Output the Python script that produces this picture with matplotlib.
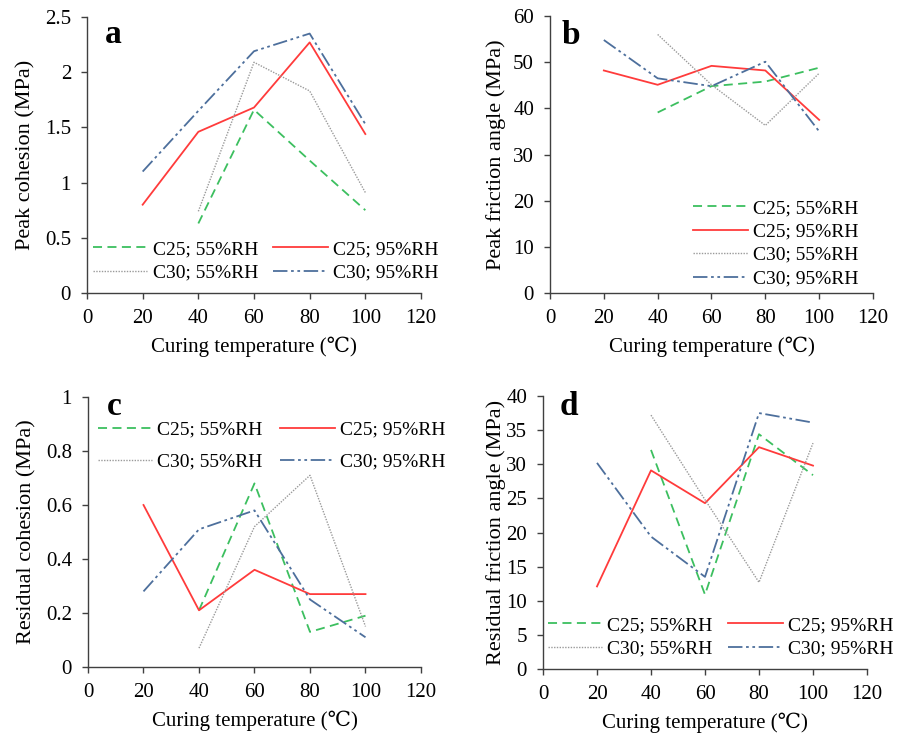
import matplotlib
matplotlib.use("Agg")
import matplotlib.pyplot as plt

plt.rcParams['font.family'] = ['Liberation Serif', 'DejaVu Serif', 'DejaVu Sans']
plt.rcParams['font.size'] = 15

temps_all = [20, 40, 60, 80, 100]
temps_55 = [40, 60, 80, 100]

series_names = ["C25; 55%RH", "C25; 95%RH", "C30; 55%RH", "C30; 95%RH"]

# Panel a: Peak cohesion (MPa)
a_c25_55 = [0.63, 1.66, 1.20, 0.75]
a_c25_95 = [0.80, 1.46, 1.68, 2.27, 1.44]
a_c30_55 = [0.74, 2.09, 1.83, 0.91]
a_c30_95 = [1.10, 1.65, 2.19, 2.35, 1.53]

# Panel b: Peak friction angle
b_c25_55 = [39.1, 44.8, 45.8, 48.8]
b_c25_95 = [48.2, 45.1, 49.2, 48.2, 37.5]
b_c30_55 = [56.0, 45.1, 36.3, 47.6]
b_c30_95 = [54.8, 46.5, 44.8, 50.1, 35.0]

# Panel c: Residual cohesion (MPa)
c_c25_55 = [0.21, 0.68, 0.13, 0.19]
c_c25_95 = [0.60, 0.21, 0.36, 0.27, 0.27]
c_c30_55 = [0.07, 0.52, 0.71, 0.15]
c_c30_95 = [0.28, 0.51, 0.58, 0.25, 0.11]

# Panel d: Residual friction angle
d_c25_55 = [32.1, 10.9, 34.4, 28.4]
d_c25_95 = [12.1, 29.1, 24.3, 32.5, 29.8]
d_c30_55 = [37.2, 24.8, 12.7, 33.1]
d_c30_95 = [30.2, 19.4, 13.5, 37.5, 36.1]

x_ticks = [0, 20, 40, 60, 80, 100, 120]

styles = [
    dict(color="#3cbf5f", linestyle=(0, (5, 3)), linewidth=1.3),
    dict(color="#ff3b3b", linestyle="-", linewidth=1.3),
    dict(color="#9a9a9a", linestyle=(0, (1, 1)), linewidth=1.0),
    dict(color="#4d6f9c", linestyle=(0, (8, 2, 1.5, 2, 1.5, 2)), linewidth=1.3),
]

W, H = 903, 736
fig = plt.figure(figsize=(W / 100, H / 100), dpi=100)


def px_axes(left, right, top, bottom):
    return fig.add_axes([left / W, (H - bottom) / H, (right - left) / W, (bottom - top) / H])


panels = [
    dict(box=(87, 421, 17, 293), data=[a_c25_55, a_c25_95, a_c30_55, a_c30_95],
         ylim=(0, 2.5), yticks=[0, 0.5, 1, 1.5, 2, 2.5], yticklabels=["0", "0.5", "1", "1.5", "2", "2.5"],
         ylabel="Peak cohesion (MPa)", ylpad=7, letter="a", lxy=(0.054, 0.906),
         leg=dict(ncol=2, bbox=(0.018, 0.19), spacing=0.3, colsp=0.8)),
    dict(box=(550, 873, 16, 293), data=[b_c25_55, b_c25_95, b_c30_55, b_c30_95],
         ylim=(0, 60), yticks=[0, 10, 20, 30, 40, 50, 60], yticklabels=None,
         ylabel="Peak friction angle (MPa)", ylpad=5, letter="b", lxy=(0.037, 0.90),
         leg=dict(ncol=1, bbox=(0.443, 0.338), spacing=0.3, colsp=0.8)),
    dict(box=(88, 421, 397, 667), data=[c_c25_55, c_c25_95, c_c30_55, c_c30_95],
         ylim=(0, 1), yticks=[0, 0.2, 0.4, 0.6, 0.8, 1], yticklabels=["0", "0.2", "0.4", "0.6", "0.8", "1"],
         ylabel="Residual cohesion (MPa)", ylpad=7, letter="c", lxy=(0.057, 0.933),
         leg=dict(ncol=2, bbox=(0.03, 0.912), spacing=0.75, colsp=0.9)),
    dict(box=(543, 867, 396, 669), data=[d_c25_55, d_c25_95, d_c30_55, d_c30_95],
         ylim=(0, 40), yticks=[0, 5, 10, 15, 20, 25, 30, 35, 40], yticklabels=None,
         ylabel="Residual friction angle (MPa)", ylpad=0, letter="d", lxy=(0.052, 0.93),
         leg=dict(ncol=2, bbox=(0.015, 0.192), spacing=0.3, colsp=0.8)),
]

for p in panels:
    ax = px_axes(*p["box"])
    handles = []
    for name, vals, st in zip(series_names, p["data"], styles):
        xs = temps_55 if len(vals) == 4 else temps_all
        h, = ax.plot(xs, vals, label=name, **st)
        handles.append(h)
    ax.set_xlim(0, 120)
    ax.set_xticks(x_ticks)
    ax.set_ylim(*p["ylim"])
    ax.set_yticks(p["yticks"])
    if p["yticklabels"]:
        ax.set_yticklabels(p["yticklabels"])
    for s in ("top", "right"):
        ax.spines[s].set_visible(False)
    for s in ("left", "bottom"):
        ax.spines[s].set_color("#404040")
        ax.spines[s].set_linewidth(1.0)
    ax.tick_params(direction="out", length=4.5, width=1.0, color="#404040", labelsize=15)
    ax.tick_params(axis="x", pad=7)
    ax.tick_params(axis="y", pad=7)
    ax.set_xlabel("Curing temperature (℃)", fontsize=15, labelpad=6)
    ax.set_ylabel(p["ylabel"], fontsize=16, labelpad=p["ylpad"])
    ax.text(p["lxy"][0], p["lxy"][1], p["letter"], transform=ax.transAxes,
            fontsize=24, fontweight="bold", va="baseline", ha="left")
    lg = p["leg"]
    if lg["ncol"] == 2:
        order = [0, 2, 1, 3]
    else:
        order = [0, 1, 2, 3]
    ax.legend([handles[i] for i in order], [series_names[i] for i in order],
              ncol=lg["ncol"], loc="upper left", bbox_to_anchor=lg["bbox"], frameon=False,
              fontsize=14, handlelength=2.8, handletextpad=0.26, columnspacing=lg["colsp"],
              labelspacing=lg["spacing"], borderaxespad=0.0, borderpad=0.0)

fig.savefig("out.png", dpi=100)
